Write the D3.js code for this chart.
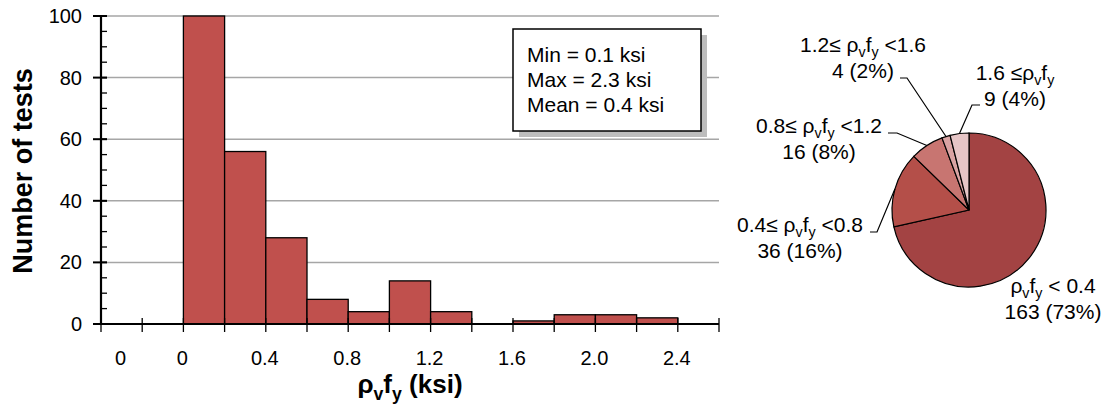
<!DOCTYPE html>
<html>
<head>
<meta charset="utf-8">
<script src="https://cdn.jsdelivr.net/npm/d3@7"></script>
<style>
  body { margin: 0; background: #fff; }
  text { font-family: "Liberation Sans", Arial, sans-serif; fill: #000; }
</style>
</head>
<body>
<div id="chart-area"></div>
<script>

// histogram bins (lower edge, ksi) and number of tests in each
let binStart = [-0.4, -0.2, 0, 0.2, 0.4, 0.6, 0.8, 1.0, 1.2, 1.4, 1.6, 1.8, 2.0, 2.2, 2.4];
let binCount = [0, 0, 107, 56, 28, 8, 4, 14, 4, 0, 1, 3, 3, 2, 0];
let binWidth = 0.2;

// x labels (Excel category axis quirk: first "0" sits under the first bin)
let xLabelAt = [-0.3, 0, 0.4, 0.8, 1.2, 1.6, 2.0, 2.4];
let xLabelText = ["0", "0", "0.4", "0.8", "1.2", "1.6", "2.0", "2.4"];
let yTicks = [0, 20, 40, 60, 80, 100];

let stats = ["Min = 0.1 ksi", "Max = 2.3 ksi", "Mean = 0.4 ksi"];

// pie slices, clockwise from 12 o'clock
let pieCount = [163, 36, 16, 4, 9];
let pieRange = ["ρ_vf_y < 0.4", "0.4≤ ρ_vf_y <0.8", "0.8≤ ρ_vf_y <1.2", "1.2≤ ρ_vf_y <1.6", "1.6 ≤ρ_vf_y"];
let piePct = ["73%", "16%", "8%", "2%", "4%"];
let pieColor = ["#a34343", "#b44f49", "#c87571", "#d9a3a3", "#e6c5c6"];

let width = 1111,
    height = 413;

let svg = d3.select("#chart-area").append("svg")
    .attr("width", width)
    .attr("height", height);

// write text where "_c" means c is a subscript
function richText(sel, str, size) {
  let parts = str.split(/_(.)/);
  parts.forEach(function(p, i) {
    if (p === "") return;
    let sub = i % 2 === 1;
    sel.append("tspan")
      .attr("font-size", sub ? size * 0.68 : size)
      .attr("dy", sub ? size * 0.25 : (i > 1 ? -size * 0.25 : 0))
      .text(p);
  });
}

// ---------- HISTOGRAM ----------
let x = d3.scaleLinear().domain([-0.4, 2.6]).range([101, 719]);
let y = d3.scaleLinear().domain([0, 100]).range([324, 16]).clamp(true);

// gridlines
svg.selectAll(".grid")
  .data(yTicks.slice(1))
  .enter().append("line")
  .attr("x1", x(-0.4)).attr("x2", x(2.6))
  .attr("y1", d => y(d)).attr("y2", d => y(d))
  .style("stroke", "#a6a6a6")
  .style("stroke-width", 1.5);

// stats box with shadow
svg.append("rect")
  .attr("x", 519).attr("y", 35).attr("width", 188).attr("height", 102)
  .style("fill", "#bdbdbd");
svg.append("rect")
  .attr("x", 513).attr("y", 29).attr("width", 188).attr("height", 102)
  .style("fill", "#fff").style("stroke", "#000").style("stroke-width", 1.5);
svg.selectAll(".stat")
  .data(stats)
  .enter().append("text")
  .attr("x", 527)
  .attr("y", (d, i) => 62 + i * 25)
  .attr("font-size", 21)
  .text(d => d);

// bars
svg.selectAll(".bar")
  .data(binStart.map((s, i) => ({ s: s, n: binCount[i] })).filter(d => d.n > 0))
  .enter().append("rect")
  .attr("x", d => x(d.s))
  .attr("width", d => x(d.s + binWidth) - x(d.s))
  .attr("y", d => y(d.n))
  .attr("height", d => y(0) - y(d.n))
  .style("fill", "#c0504d")
  .style("stroke", "#000")
  .style("stroke-width", 1.3);

// y axis
let yMinor = d3.range(0, 101, 5);
svg.selectAll(".ymin")
  .data(yMinor)
  .enter().append("line")
  .attr("x1", x(-0.4)).attr("x2", x(-0.4) + 6)
  .attr("y1", d => y(d)).attr("y2", d => y(d))
  .style("stroke", "#000").style("stroke-width", 1.3);
svg.selectAll(".ymaj")
  .data(yTicks)
  .enter().append("line")
  .attr("x1", x(-0.4) - 8).attr("x2", x(-0.4) + 6)
  .attr("y1", d => y(d)).attr("y2", d => y(d))
  .style("stroke", "#000").style("stroke-width", 2);
svg.append("line")
  .attr("x1", x(-0.4)).attr("x2", x(-0.4))
  .attr("y1", y(0)).attr("y2", y(100))
  .style("stroke", "#000").style("stroke-width", 2.2);
svg.selectAll(".ylab")
  .data(yTicks)
  .enter().append("text")
  .attr("x", 82)
  .attr("y", d => y(d) + 7)
  .attr("text-anchor", "end")
  .attr("font-size", 20)
  .text(d => d);

// x axis
let edges = binStart.concat([binStart[binStart.length - 1] + binWidth]);
svg.append("line")
  .attr("x1", x(-0.4)).attr("x2", x(2.6))
  .attr("y1", y(0)).attr("y2", y(0))
  .style("stroke", "#000").style("stroke-width", 2.2);
svg.selectAll(".xtick")
  .data(edges)
  .enter().append("line")
  .attr("x1", d => x(d)).attr("x2", d => x(d))
  .attr("y1", y(0) - 6).attr("y2", y(0) + 8)
  .style("stroke", "#000").style("stroke-width", 1.3);
svg.selectAll(".xlab")
  .data(xLabelAt)
  .enter().append("text")
  .attr("x", d => x(d) - 1)
  .attr("y", 365)
  .attr("text-anchor", "middle")
  .attr("font-size", 20)
  .text((d, i) => xLabelText[i]);

// axis titles
svg.append("text")
  .attr("transform", "translate(32,171) rotate(-90)")
  .attr("text-anchor", "middle")
  .attr("font-size", 27)
  .attr("font-weight", "bold")
  .text("Number of tests");

let xt = svg.append("text")
  .attr("x", 410).attr("y", 393)
  .attr("text-anchor", "middle")
  .attr("font-weight", "bold");
richText(xt, "ρ_vf_y (ksi)", 26);

// ---------- PIE ----------
let cx = 969, cy = 210, r = 77;
let pie = d3.pie().sort(null).value(d => d);
let arc = d3.arc().innerRadius(0).outerRadius(r);
let slices = pie(pieCount);

let g = svg.append("g").attr("transform", "translate(" + cx + "," + cy + ")");
g.selectAll("path")
  .data(slices)
  .enter().append("path")
  .attr("d", arc)
  .style("fill", (d, i) => pieColor[i])
  .style("stroke", "#000")
  .style("stroke-width", 1.2);

// label layout: text centre, first baseline, and leader elbow (null = no leader)
let labelPos = [
  { tx: 1053, ty: 293, elbow: null },
  { tx: 800, ty: 232, elbow: [[870, 232], [877, 232]] },
  { tx: 819, ty: 133, elbow: [[888, 133], [897, 133]] },
  { tx: 863, ty: 52, elbow: [[900, 78], [907, 78]] },
  { tx: 1015, ty: 80, elbow: [[980, 105], [972, 105]] }
];

slices.forEach(function(s, i) {
  let p = labelPos[i];
  if (p.elbow) {
    let mid = (s.startAngle + s.endAngle) / 2;
    let end = [cx + r * Math.sin(mid), cy - r * Math.cos(mid)];
    svg.append("path")
      .attr("d", d3.line()(p.elbow.concat([end])))
      .style("fill", "none")
      .style("stroke", "#000")
      .style("stroke-width", 1.2);
  }
  let t1 = svg.append("text")
    .attr("x", p.tx).attr("y", p.ty)
    .attr("text-anchor", "middle");
  richText(t1, pieRange[i], 21);
  svg.append("text")
    .attr("x", p.tx).attr("y", p.ty + 26)
    .attr("text-anchor", "middle")
    .attr("font-size", 21)
    .text(pieCount[i] + " (" + piePct[i] + ")");
});

</script>
</body>
</html>
